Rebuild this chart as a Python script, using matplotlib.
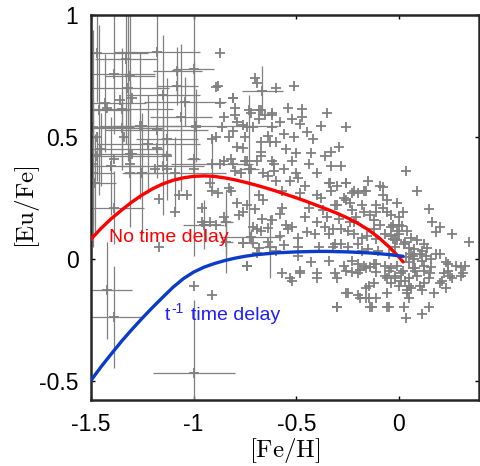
import numpy as np
import matplotlib
matplotlib.use("Agg")
import matplotlib.pyplot as plt

plt.rcParams['font.family'] = ['Liberation Sans', 'DejaVu Sans']
plt.rcParams['mathtext.fontset'] = 'cm'
plt.rcParams['axes.unicode_minus'] = False

# model curves
model_feh = [-1.5, -1.45, -1.4, -1.35, -1.3, -1.25, -1.2, -1.15, -1.1, -1.05,
             -1.0, -0.95, -0.9, -0.85, -0.8, -0.75, -0.7, -0.65, -0.6, -0.55,
             -0.5, -0.45, -0.4, -0.35, -0.3, -0.25, -0.2, -0.15, -0.1, -0.05,
             0.0, 0.02]
no_delay = [0.08, 0.125, 0.165, 0.2, 0.233, 0.262, 0.287, 0.307, 0.322, 0.332,
            0.338, 0.34, 0.338, 0.332, 0.324, 0.314, 0.303, 0.291, 0.278, 0.264,
            0.25, 0.235, 0.219, 0.203, 0.186, 0.167, 0.145, 0.119, 0.088, 0.05,
            0.007, -0.013]
t1_delay = [-0.5, -0.443, -0.39, -0.338, -0.29, -0.244, -0.2, -0.158, -0.117, -0.082,
            -0.055, -0.035, -0.02, -0.008, 0.002, 0.01, 0.016, 0.02, 0.024, 0.026,
            0.028, 0.029, 0.03, 0.03, 0.029, 0.028, 0.026, 0.024, 0.021, 0.017,
            0.012, 0.01]

# stars with error bars (mostly the metal-poor end)
err_feh = [-1.47, -1.18, -1.33, -1.39, -1.08, -1.00, -1.08, -1.15, -1.31, -1.32,
           -1.43, -1.46, -1.35, -1.04, -1.06, -0.99, -1.26, -1.18, -1.49, -1.35,
           -1.13, -1.31, -1.15, -1.09, -1.39, -1.49, -1.42, -1.39, -1.00, -0.665,
           -0.73, -0.63, -0.72, -0.84, -0.91, -1.25, -1.40, -1.00, -1.48, -0.95,
           -0.84, -1.45, -1.22, -1.47]
err_eufe = [0.845, 0.85, 0.82, 0.76, 0.77, 0.78, 0.71, 0.67, 0.75, 0.70,
            0.64, 0.61, 0.615, 0.645, 0.58, 0.545, 0.545, 0.53, 0.54, 0.535,
            0.49, 0.43, 0.38, 0.35, 0.21, 0.35, -0.13, -0.24, -0.47, 0.69,
            0.37, 0.05, 0.09, 0.07, 0.39, 0.35, 0.38, 0.41, 0.31, 0.14,
            0.15, 0.45, 0.47, 0.42]
err_x = [0.25, 0.21, 0.15, 0.20, 0.12, 0.10, 0.10, 0.18, 0.12, 0.20,
         0.20, 0.15, 0.25, 0.20, 0.15, 0.40, 0.20, 0.25, 0.20, 0.20,
         0.15, 0.20, 0.20, 0.25, 0.15, 0.10, 0.12, 0.15, 0.20, 0.10,
         0.05, 0.03, 0.15, 0.03, 0.20, 0.10, 0.15, 0.03, 0.10, 0.10,
         0.03, 0.30, 0.25, 0.35]
err_y = [0.20, 0.15, 0.35, 0.25, 0.10, 0.30, 0.08, 0.25, 0.40, 0.30,
         0.20, 0.35, 0.25, 0.10, 0.30, 0.15, 0.30, 0.20, 0.40, 0.15,
         0.25, 0.30, 0.20, 0.15, 0.15, 0.30, 0.20, 0.21, 0.30, 0.10,
         0.30, 0.13, 0.03, 0.13, 0.10, 0.25, 0.20, 0.40, 0.20, 0.10,
         0.13, 0.15, 0.20, 0.10]

# stars without error bars
feh = [-0.87, -0.88, -0.89, -0.87, -0.81, -0.85, -0.80, -0.80, -0.70, -0.69,
       -0.60, -0.51, -0.73, -0.67, -0.62, -0.76, -0.71, -0.62, -0.91, -0.83,
       -0.76, -0.67, -0.63, -0.82, -0.74, -0.67, -0.62, -0.66, -0.61, -0.77,
       -0.81, -0.87, -0.92, -1.00, -1.13, -1.19, -1.03, -0.91, -0.82, -1.30,
       -1.36, -1.42, -0.99, -1.25, -1.34, -1.47, -1.39, -1.30, -1.18, -1.13,
       -1.31, -1.25, -1.31, -1.49, -1.40, -1.48, -0.95, -0.89, -0.85, -0.71,
       -0.67, -0.76, -0.71, -0.68, -0.76, -0.74, -1.07, -1.17, -1.17, -0.74,
       -1.00, -0.91, -0.96, -1.09, -0.96, -0.92,
       # region -0.9 .. -0.25, upper
       -0.81, -0.72, -0.68, -0.62, -0.65, -0.54, -0.47, -0.35, -0.79, -0.74,
       -0.68, -0.58, -0.52, -0.48, -0.38, -0.26, -0.86, -0.81, -0.75, -0.64,
       -0.56, -0.51, -0.42, -0.89, -0.79, -0.67, -0.60, -0.50, -0.43, -0.33,
       -0.85, -0.75, -0.69, -0.61, -0.56, -0.52, -0.44, -0.40, -0.28, -0.80,
       -0.72, -0.64, -0.53, -0.46, -0.34, -0.26, -0.47, -0.45, -0.55, -0.49,
       # lower middle
       -0.88, -0.83, -0.68, -0.57, -0.48, -0.40, -0.33, -0.79, -0.78, -0.70,
       -0.665, -0.58, -0.54, -0.46, -0.40, -0.35, -0.29, -0.69, -0.64, -0.58,
       -0.49, -0.41, -0.34, -0.76, -0.64, -0.56, -0.49, -0.39, -0.28, -0.74,
       -0.69, -0.60, -0.49, -0.43, -0.34, -0.27, -0.48, -0.40, -0.53, -0.30,
       -0.26, -0.30, -0.57, -0.52, -0.31, -0.26, -0.62, -0.55, -0.45, -0.37,
       -0.31, -0.66, -0.60, -0.50, -0.36, -0.32, -0.44,
       # metal-rich end
       -0.335, -0.26, -0.22, -0.17, 0.035, -0.08, 0.09, -0.09, -0.06, -0.01,
       0.145, 0.16, 0.20, 0.18, -0.16, -0.20, -0.23, -0.11, -0.11, -0.18,
       -0.17, -0.06, -0.04, -0.23, -0.21, -0.24, -0.12, -0.09, -0.12, -0.04,
       -0.01, 0.015, 0.04, 0.06, 0.09, 0.12, 0.135, 0.11, 0.075, -0.25,
       -0.22, -0.18, -0.155, -0.11, -0.07, -0.04, -0.01, 0.025, 0.05, 0.06,
       0.035, 0.05, 0.075, 0.11, 0.13, 0.155, 0.12, 0.155, -0.23, -0.20,
       -0.17, -0.14, -0.11, -0.07, -0.04, -0.01, 0.18, 0.20, 0.24, 0.28,
       0.32, 0.22, 0.25, 0.31, 0.30, 0.20, 0.23, 0.145, 0.15, 0.12,
       0.11, 0.17, 0.05, 0.05, 0.04, 0.05, -0.02, -0.04, -0.06, -0.07,
       -0.11, -0.12, -0.145, -0.16, -0.23, -0.20, -0.19, -0.16, -0.25, -0.20,
       -0.19, -0.145, -0.11, -0.06, -0.14, -0.06, 0.025, 0.035, 0.11, 0.145,
       -0.57, -0.52, -0.48, -0.40, -0.31, -0.26, -0.16, -0.30, -0.13, -0.05,
       0.23, 0.24, 0.30, 0.26, 0.21, -0.30, -0.28, -0.32, -0.25, -0.20,
       -0.15, -0.10, -0.05, -0.02, 0.00, 0.02, -0.05, 0.08, 0.10, -0.30,
       -0.22, -0.14, -0.08, 0.00, 0.03, -0.27, -0.18, -0.12, -0.03, 0.07,
       -0.36, -0.33, -0.29, -0.24, -0.38, -0.15, -0.08, 0.02, 0.00, -0.02,
       0.26, 0.34, -0.03, 0.01, 0.10,
       0.01, 0.03, 0.06, 0.08, -0.02, 0.04, 0.07, 0.00, 0.09, 0.12]
eufe = [0.845, 0.71, 0.705, 0.64, 0.66, 0.58, 0.62, 0.59, 0.74, 0.72,
        0.70, 0.71, 0.61, 0.61, 0.59, 0.55, 0.54, 0.54, 0.49, 0.50,
        0.455, 0.48, 0.48, 0.41, 0.40, 0.42, 0.40, 0.35, 0.36, 0.35,
        0.39, 0.39, 0.31, 0.37, 0.37, 0.37, 0.26, 0.28, 0.28, 0.66,
        0.65, 0.62, 0.54, 0.545, 0.50, 0.50, 0.41, 0.43, 0.455, 0.42,
        0.39, 0.35, 0.35, 0.39, 0.38, 0.31, 0.14, 0.14, 0.17, 0.13,
        0.115, 0.066, 0.066, 0.045, 0.19, 0.22, 0.26, 0.245, 0.05, -0.03,
        -0.11, -0.15, 0.21, 0.19, 0.15, 0.15,
        0.66, 0.60, 0.61, 0.60, 0.59, 0.62, 0.615, 0.60, 0.56, 0.54,
        0.575, 0.56, 0.575, 0.555, 0.545, 0.54, 0.54, 0.525, 0.50, 0.505,
        0.51, 0.50, 0.49, 0.50, 0.46, 0.44, 0.48, 0.435, 0.435, 0.44,
        0.40, 0.40, 0.40, 0.39, 0.37, 0.40, 0.39, 0.35, 0.38, 0.36,
        0.37, 0.34, 0.32, 0.30, 0.31, 0.31, 0.58, 0.52, 0.45, 0.33,
        0.27, 0.29, 0.26, 0.28, 0.27, 0.26, 0.28, 0.23, 0.18, 0.205,
        0.165, 0.185, 0.12, 0.17, 0.15, 0.17, 0.165, 0.12, 0.125, 0.095,
        0.085, 0.10, 0.10, 0.065, 0.07, 0.057, 0.05, 0.05, 0.06, -0.03,
        0.025, 0.03, 0.01, -0.015, -0.01, -0.03, -0.05, -0.06, -0.08, -0.08,
        -0.14, -0.20, 0.21, 0.13, 0.22, 0.24, 0.16, 0.14, 0.11, 0.20,
        0.06, 0.24, 0.32, 0.35, 0.13, 0.12, 0.21,
        0.31, 0.31, 0.28, 0.28, 0.36, 0.295, 0.28, 0.30, 0.24, 0.23,
        0.205, 0.15, 0.13, 0.11, 0.28, 0.27, 0.27, 0.22, 0.19, 0.22,
        0.19, 0.19, 0.18, 0.20, 0.17, 0.15, 0.16, 0.14, 0.12, 0.13,
        0.115, 0.135, 0.115, 0.085, 0.075, 0.06, 0.045, 0.03, 0.04, 0.115,
        0.10, 0.085, 0.095, 0.08, 0.10, 0.095, 0.075, 0.06, 0.045, 0.02,
        0.005, -0.015, 0.0, -0.01, 0.01, 0.0, -0.03, -0.035, -0.01, -0.02,
        -0.03, -0.035, -0.02, -0.03, -0.04, -0.03, 0.02, 0.02, -0.02, -0.03,
        -0.03, -0.06, -0.07, -0.06, -0.07, -0.10, -0.12, -0.08, -0.06, -0.10,
        -0.13, -0.14, -0.08, -0.11, -0.14, -0.16, -0.07, -0.10, -0.08, -0.07,
        -0.055, -0.10, -0.11, -0.12, -0.055, -0.06, -0.045, -0.04, -0.14, -0.15,
        -0.16, -0.16, -0.16, -0.14, -0.20, -0.20, -0.20, -0.245, -0.225, -0.20,
        -0.06, -0.09, -0.06, -0.08, -0.06, -0.05, -0.16, -0.20, -0.20, -0.20,
        -0.015, -0.05, -0.035, -0.08, -0.09, 0.22, 0.12, 0.05, 0.05, 0.06,
        0.04, 0.03, 0.02, 0.05, 0.10, -0.05, -0.05, -0.05, 0.02, 0.30,
        0.15, 0.18, 0.21, 0.17, 0.07, 0.25, 0.03, -0.02, 0.14, -0.04,
        0.42, 0.38, 0.46, 0.23, 0.25, 0.32, 0.26, 0.19, 0.14, 0.08,
        0.10, 0.07, 0.08, -0.09, -0.11,
        -0.06, -0.09, -0.12, -0.04, -0.08, -0.13, 0.01, -0.11, -0.07, -0.05]

gray = (0.5, 0.5, 0.5)

fig = plt.figure(figsize=(4.81, 4.66), dpi=100)
ax = fig.add_axes([0.189, 0.1416, 0.807, 0.826])

ax.errorbar(err_feh, err_eufe, xerr=err_x, yerr=err_y, fmt='+', color=gray,
            ecolor=gray, elinewidth=0.9, capsize=0, ms=7.5, mew=1.3, zorder=2)
ax.plot(feh, eufe, '+', color=gray, ms=7.5, mew=1.3, zorder=2)

ax.plot(model_feh, no_delay, color='red', lw=2.4, zorder=3,
        solid_capstyle='round', solid_joinstyle='round')
ax.plot(model_feh, t1_delay, color='#0a3cc8', lw=2.4, zorder=3,
        solid_capstyle='round', solid_joinstyle='round')

ax.text(-1.41, 0.086, 'No time delay', color='red', fontsize=14, va='center')
# "t^-1 time delay" built from pieces so the superscript keeps a plain hyphen
lab_x, lab_y = -1.14, -0.235
blue_txt = '#1f1fff'
ax.annotate('t', (lab_x, lab_y), color=blue_txt, fontsize=14, va='center')
ax.annotate('-1', (lab_x, lab_y), xytext=(4.5, 5), textcoords='offset points',
            color=blue_txt, fontsize=10, va='center')
ax.annotate('time delay', (lab_x, lab_y), xytext=(18.5, 0), textcoords='offset points',
            color=blue_txt, fontsize=14, va='center')

ax.set_xlim(-1.5, 0.39)
ax.set_ylim(-0.58, 1.0)
ax.set_xticks([-1.5, -1, -0.5, 0])
ax.set_xticklabels(['-1.5', '-1', '-0.5', '0'])
ax.set_yticks([-0.5, 0, 0.5, 1])
ax.set_yticklabels(['-0.5', '0', '0.5', '1'])
ax.tick_params(direction='in', length=3, width=1, top=True, right=True,
               labelsize=16.5, pad=9)
for sp in ax.spines.values():
    sp.set_linewidth(1.8)
    sp.set_color('#262626')

ax.set_xlabel(r'$[\mathrm{Fe/H}]$', fontsize=18, labelpad=0)
ax.set_ylabel(r'$[\mathrm{Eu/Fe}]$', fontsize=18, labelpad=-2)

fig.savefig('out.png', dpi=100)
